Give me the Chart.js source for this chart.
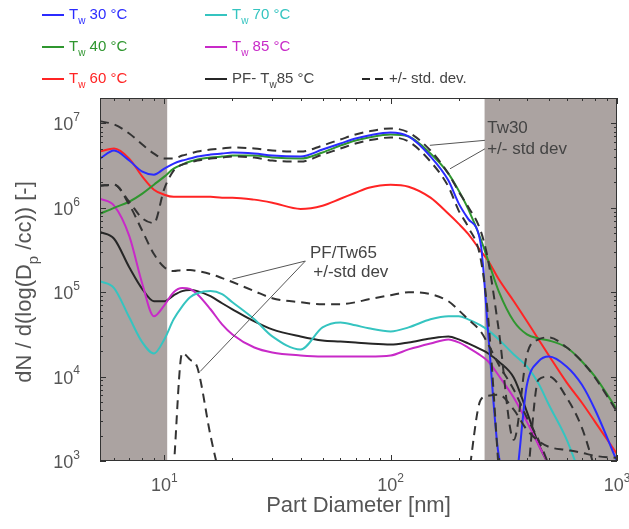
<!DOCTYPE html>
<html>
<head>
<meta charset="utf-8">
<title>Particle size distributions</title>
<script src="https://cdn.jsdelivr.net/npm/chart.js@4.4.1/dist/chart.umd.min.js"></script>
<style>
    body { margin: 0; background: #fff; }
    #wrap { width: 629px; height: 529px; }
</style>
</head>
<body>
<div id="wrap"><canvas id="psdChart" width="629" height="529"></canvas></div>
<script>
// Particle diameters [nm], shared by every curve
const diameters = [5.2, 6, 7, 8, 9, 10, 11, 12, 13, 14, 16, 18, 20, 25, 30, 40, 50, 60, 70, 80,
    100, 120, 150, 180, 200, 220, 250, 270, 300, 350, 400, 450, 500, 600, 700, 800, 1000];

// dN/dlog(Dp) [1/cc]
const tw30 = [3.83e6, 4.77e6, 3.63e6, 2.68e6, 2.47e6, 2.91e6, 3.34e6, 3.63e6, 3.83e6, 4.05e6, 4.27e6, 4.39e6, 4.52e6, 4.39e6, 4.16e6, 4.05e6, 4.9e6, 5.78e6, 6.63e6, 7.2e6,
    7.82e6, 7.0e6, 4.05e6, 2.1e6, 1.12e6, 7.4e5, 3.73e5, 3.16e4, 1.18e3, 500, 8.0e3, 1.51e4, 1.73e4, 1.31e4, 8.0e3, 4.05e3, 990];
const tw40 = [8.49e5, 1.0e6, 1.18e6, 1.47e6, 1.88e6, 2.34e6, 2.91e6, 3.25e6, 3.53e6, 3.73e6, 3.94e6, 4.05e6, 4.16e6, 4.16e6, 3.94e6, 3.83e6, 4.52e6, 5.47e6, 6.28e6, 6.81e6,
    7.4e6, 7.0e6, 4.39e6, 2.54e6, 1.59e6, 9.7e5, 4.27e5, 2.34e5, 1.03e5, 4.52e4, 3.16e4, 2.83e4, 2.68e4, 2.21e4, 1.51e4, 1.0e4, 4.05e3];
const tw60 = [4.64e6, 5.04e6, 3.83e6, 2.34e6, 1.64e6, 1.43e6, 1.35e6, 1.35e6, 1.35e6, 1.35e6, 1.35e6, 1.32e6, 1.32e6, 1.25e6, 1.15e6, 9.7e5, 1.06e6, 1.28e6, 1.51e6, 1.73e6,
    1.88e6, 1.78e6, 1.32e6, 8.49e5, 6.45e5, 4.9e5, 3.08e5, 2.34e5, 1.43e5, 7.81e4, 4.52e4, 2.76e4, 1.78e4, 8.49e3, 4.9e3, 2.91e3, 1.21e3];
const tw70 = [1.35e5, 1.12e5, 5.04e4, 2.54e4, 1.88e4, 2.76e4, 4.77e4, 6.81e4, 8.72e4, 9.73e4, 1.03e5, 9.47e4, 7.6e4, 4.77e4, 3.0e4, 2.1e4, 3.83e4, 4.39e4, 4.05e4, 3.73e4,
    3.43e4, 3.83e4, 4.77e4, 5.18e4, 5.18e4, 4.77e4, 4.05e4, 3.53e4, 2.76e4, 1.83e4, 1.32e4, 8.26e3, 4.64e3, 1.78e3, 600, null, null];
const tw85 = [1.28e6, 1.06e6, 4.64e5, 1.25e5, 5.18e4, 7.0e4, 1.0e5, 1.12e5, 1.09e5, 9.47e4, 6.28e4, 4.16e4, 3.16e4, 2.21e4, 1.93e4, 1.78e4, 1.73e4, 1.73e4, 1.73e4, 1.73e4,
    1.78e4, 2.1e4, 2.47e4, 2.76e4, 2.54e4, 2.21e4, 1.78e4, 1.51e4, 1.03e4, 5.62e3, 2.91e3, 1.55e3, 900, null, null, null, null];
const pfTw85 = [5.18e5, 4.3e5, 1.98e5, 1.09e5, 7.81e4, 7.81e4, 9.2e4, 1.03e5, 1.06e5, 1.03e5, 8.96e4, 7.4e4, 6.28e4, 4.52e4, 3.63e4, 2.99e4, 2.68e4, 2.61e4, 2.54e4, 2.47e4,
    2.4e4, 2.54e4, 2.83e4, 2.99e4, 2.76e4, 2.47e4, 2.1e4, 1.88e4, 1.51e4, 9.7e3, 3.83e3, 1.59e3, 900, null, null, null, null];

// +/- one standard deviation
const tw30Upper = [1.06e7, 9.73e6, 7.6e6, 5.62e6, 4.39e6, 3.83e6, 3.83e6, 4.16e6, 4.39e6, 4.64e6, 4.9e6, 5.04e6, 5.18e6, 5.04e6, 4.77e6, 4.64e6, 5.47e6, 6.45e6, 7.4e6, 8.03e6,
    8.72e6, 7.82e6, 4.77e6, 2.54e6, 1.55e6, 1.03e6, 5.32e5, 2.34e5, 3.63e4, 1.78e3, 1.83e4, 2.76e4, 2.91e4, 2.21e4, 1.51e4, 9.7e3, 3.83e3];
const tw30Lower = [1.83e6, 1.88e6, 1.18e6, 7.5e5, 6.6e5, 1.68e6, 2.76e6, 3.25e6, 3.43e6, 3.63e6, 3.83e6, 3.94e6, 4.05e6, 3.94e6, 3.63e6, 3.53e6, 4.27e6, 5.04e6, 5.78e6, 6.28e6,
    6.81e6, 6.1e6, 3.53e6, 1.78e6, 9.2e5, 5.94e5, 2.47e5, 4.77e4, 800, null, 500, 9.2e3, 1.0e4, 5.62e3, 2.47e3, 800, null];
const pfUpper = [1.83e6, 1.88e6, 1.09e6, 5.32e5, 2.83e5, 1.98e5, 1.78e5, 1.83e5, 1.83e5, 1.78e5, 1.64e5, 1.47e5, 1.32e5, 1.03e5, 8.49e4, 7.6e4, 7.2e4, 7.2e4, 7.6e4, 8.25e4,
    9.2e4, 1.0e5, 9.47e4, 7.81e4, 6.1e4, 4.77e4, 3.43e4, 2.4e4, 1.39e4, 7.0e3, 3.25e3, 1.78e3, 900, null, null, null, null];
const pfLower = [null, null, null, null, null, null, 800, 1.9e4, 1.59e4, 1.28e4, 2.0e3, 500, null, null, null, null, null, null, null, null,
    null, null, null, null, null, 600, 5.32e3, 5.94e3, 6.1e3, 4.05e3, 2.34e3, 1.73e3, 1.47e3, 1.35e3, 1.25e3, 1.15e3, 1.09e3];

// axis ticks and the shaded (unreliable) size ranges
const xTicks = [10, 100, 1000];
const yTicks = [1e3, 1e4, 1e5, 1e6, 1e7];
const shadedRanges = [[5.2, 10.3], [260, 1000]];

const fontFam = '"Liberation Sans", Arial, sans-serif';
const textGray = '#555';

const series = [
    { name: 'Tw 30 °C', values: tw30, color: '#2b2bff' },
    { name: 'Tw 40 °C', values: tw40, color: '#2f962f' },
    { name: 'Tw 60 °C', values: tw60, color: '#ff2424' },
    { name: 'Tw 70 °C', values: tw70, color: '#35c4c0' },
    { name: 'Tw 85 °C', values: tw85, color: '#c82ac8' },
    { name: 'PF- Tw 85 °C', values: pfTw85, color: '#262626' },
    { name: 'Tw30 upper', values: tw30Upper, color: '#333333', dashed: true },
    { name: 'Tw30 lower', values: tw30Lower, color: '#333333', dashed: true },
    { name: 'PF upper', values: pfUpper, color: '#333333', dashed: true },
    { name: 'PF lower', values: pfLower, color: '#333333', dashed: true }
];

// Text made of parts: plain, subscript (sub) or superscript (sup)
function partSize(p, size) {
    return p.sub || p.sup ? Math.round(size * 0.68) : size;
}

function richWidth(ctx, parts, size) {
    let w = 0;
    parts.forEach(p => {
        ctx.font = partSize(p, size) + 'px ' + fontFam;
        w += ctx.measureText(p.t).width;
    });
    return w;
}

function drawRich(ctx, parts, x, y, size, color) {
    ctx.fillStyle = color;
    ctx.textBaseline = 'middle';
    ctx.textAlign = 'left';
    parts.forEach(p => {
        ctx.font = partSize(p, size) + 'px ' + fontFam;
        let dy = 0;
        if (p.sub) dy = size * 0.4;
        if (p.sup) dy = -size * 0.42;
        ctx.fillText(p.t, x, y + dy);
        x += ctx.measureText(p.t).width;
    });
}

function powerParts(v) {
    return [{ t: '10' }, { t: String(Math.round(Math.log10(v))), sup: true }];
}

const decorPlugin = {
    id: 'decor',
    beforeDatasetsDraw(chart) {
        const { ctx, chartArea: a, scales: { x } } = chart;
        ctx.save();
        ctx.fillStyle = '#aba3a1';
        shadedRanges.forEach(r => {
            const x0 = Math.max(a.left, x.getPixelForValue(r[0]));
            const x1 = Math.min(a.right, x.getPixelForValue(r[1]));
            ctx.fillRect(x0, a.top, x1 - x0, a.bottom - a.top);
        });
        ctx.restore();
    },
    afterDatasetsDraw(chart) {
        const { ctx, chartArea: a, scales: { x, y } } = chart;
        ctx.save();
        // frame with inward ticks, like the original plot
        ctx.strokeStyle = '#333';
        ctx.lineWidth = 1;
        ctx.strokeRect(a.left + 0.5, a.top + 0.5, a.right - a.left - 1, a.bottom - a.top - 1);
        ctx.beginPath();
        for (let dec = 1; dec <= 1000; dec *= 10) {
            for (let k = 1; k <= 9; k++) {
                const v = dec * k;
                if (v < x.min || v > x.max) continue;
                const px = Math.round(x.getPixelForValue(v)) + 0.5;
                const len = k === 1 ? 6 : 3;
                ctx.moveTo(px, a.bottom); ctx.lineTo(px, a.bottom - len);
                ctx.moveTo(px, a.top); ctx.lineTo(px, a.top + len);
            }
        }
        for (let dec = 1e3; dec <= 1e7; dec *= 10) {
            for (let k = 1; k <= 9; k++) {
                const v = dec * k;
                if (v < y.min || v > y.max) continue;
                const py = Math.round(y.getPixelForValue(v)) + 0.5;
                const len = k === 1 ? 6 : 3;
                ctx.moveTo(a.left, py); ctx.lineTo(a.left + len, py);
                ctx.moveTo(a.right, py); ctx.lineTo(a.right - len, py);
            }
        }
        ctx.stroke();

        // tick labels with real superscripts
        xTicks.forEach(v => {
            const parts = powerParts(v);
            const w = richWidth(ctx, parts, 18);
            drawRich(ctx, parts, x.getPixelForValue(v) - w / 2, a.bottom + 25, 18, textGray);
        });
        yTicks.forEach(v => {
            const parts = powerParts(v);
            const w = richWidth(ctx, parts, 18);
            drawRich(ctx, parts, a.left - 20 - w, y.getPixelForValue(v) + 2, 18, textGray);
        });

        // annotations pointing at the std-dev curves
        ctx.strokeStyle = '#555';
        ctx.beginPath();
        ctx.moveTo(x.getPixelForValue(261), y.getPixelForValue(6.3e6));
        ctx.lineTo(x.getPixelForValue(149), y.getPixelForValue(5.5e6));
        ctx.moveTo(x.getPixelForValue(261), y.getPixelForValue(5.0e6));
        ctx.lineTo(x.getPixelForValue(183), y.getPixelForValue(2.9e6));
        ctx.moveTo(x.getPixelForValue(42), y.getPixelForValue(2.34e5));
        ctx.lineTo(x.getPixelForValue(20), y.getPixelForValue(1.43e5));
        ctx.moveTo(x.getPixelForValue(42), y.getPixelForValue(2.34e5));
        ctx.lineTo(x.getPixelForValue(14.4), y.getPixelForValue(1.15e4));
        ctx.stroke();

        ctx.fillStyle = '#444';
        ctx.font = '17px ' + fontFam;
        ctx.textBaseline = 'middle';
        ctx.textAlign = 'left';
        ctx.fillText('Tw30', x.getPixelForValue(267), y.getPixelForValue(8.7e6));
        ctx.fillText('+/- std dev', x.getPixelForValue(267), y.getPixelForValue(4.9e6));
        ctx.fillText('PF/Tw65', x.getPixelForValue(44), y.getPixelForValue(2.9e5));
        ctx.fillText('+/-std dev', x.getPixelForValue(45.5), y.getPixelForValue(1.7e5));
        ctx.restore();
    },
    afterDraw(chart) {
        const { ctx, chartArea: a } = chart;
        ctx.save();

        // legend, three columns
        const legend = [
            { parts: [{ t: 'T' }, { t: 'w', sub: true }, { t: ' 30 °C' }], color: '#2b2bff', col: 0, row: 0 },
            { parts: [{ t: 'T' }, { t: 'w', sub: true }, { t: ' 40 °C' }], color: '#2f962f', col: 0, row: 1 },
            { parts: [{ t: 'T' }, { t: 'w', sub: true }, { t: ' 60 °C' }], color: '#ff2424', col: 0, row: 2 },
            { parts: [{ t: 'T' }, { t: 'w', sub: true }, { t: ' 70 °C' }], color: '#35c4c0', col: 1, row: 0 },
            { parts: [{ t: 'T' }, { t: 'w', sub: true }, { t: ' 85 °C' }], color: '#c82ac8', col: 1, row: 1 },
            { parts: [{ t: 'PF- T' }, { t: 'w', sub: true }, { t: '85 °C' }], color: '#262626', textColor: '#444', col: 1, row: 2 },
            { parts: [{ t: '+/- std. dev.' }], color: '#262626', textColor: '#444', dashed: true, col: 2, row: 2 }
        ];
        const colX = [42, 205, 362];
        const rowY = [15, 47, 79];
        legend.forEach(item => {
            const lx = colX[item.col];
            const ly = rowY[item.row];
            ctx.strokeStyle = item.color;
            ctx.lineWidth = 2;
            ctx.setLineDash(item.dashed ? [8, 5] : []);
            ctx.beginPath();
            ctx.moveTo(lx, ly);
            ctx.lineTo(lx + 22, ly);
            ctx.stroke();
            ctx.setLineDash([]);
            drawRich(ctx, item.parts, lx + 27, ly, 15, item.textColor || item.color);
        });

        // axis titles
        ctx.fillStyle = textGray;
        ctx.font = '22px ' + fontFam;
        ctx.textAlign = 'center';
        ctx.textBaseline = 'alphabetic';
        ctx.fillText('Part Diameter [nm]', (a.left + a.right) / 2, 512);

        const yTitle = [{ t: 'dN / d(log(D' }, { t: 'p', sub: true }, { t: ' /cc)) [-]' }];
        const w = richWidth(ctx, yTitle, 22);
        ctx.translate(25, 282);
        ctx.rotate(-Math.PI / 2);
        drawRich(ctx, yTitle, -w / 2, 0, 22, textGray);
        ctx.restore();
    }
};

new Chart(document.getElementById('psdChart'), {
    type: 'line',
    data: {
        datasets: series.map(s => ({
            label: s.name,
            data: diameters.map((d, i) => ({ x: d, y: s.values[i] })),
            borderColor: s.color,
            borderWidth: 2,
            borderDash: s.dashed ? [9, 6] : [],
            pointRadius: 0,
            cubicInterpolationMode: 'monotone',
            spanGaps: false,
            order: s.dashed ? 0 : 1
        }))
    },
    options: {
        responsive: false,
        animation: false,
        layout: { padding: { top: 98, right: 12, left: 0, bottom: 0 } },
        plugins: {
            legend: { display: false },
            tooltip: { enabled: false }
        },
        scales: {
            x: {
                type: 'logarithmic',
                min: 5.2,
                max: 1000,
                grid: { display: false },
                border: { display: false },
                ticks: { display: false },
                afterBuildTicks: s => { s.ticks = xTicks.map(v => ({ value: v })); },
                afterFit: s => { s.height = 68; s.paddingLeft = 0; s.paddingRight = 0; }
            },
            y: {
                type: 'logarithmic',
                min: 1e3,
                max: 2e7,
                grid: { display: false },
                border: { display: false },
                ticks: { display: false },
                afterBuildTicks: s => { s.ticks = yTicks.map(v => ({ value: v })); },
                afterFit: s => { s.width = 100; s.paddingTop = 0; s.paddingBottom = 0; }
            }
        }
    },
    plugins: [decorPlugin]
});
</script>
</body>
</html>
